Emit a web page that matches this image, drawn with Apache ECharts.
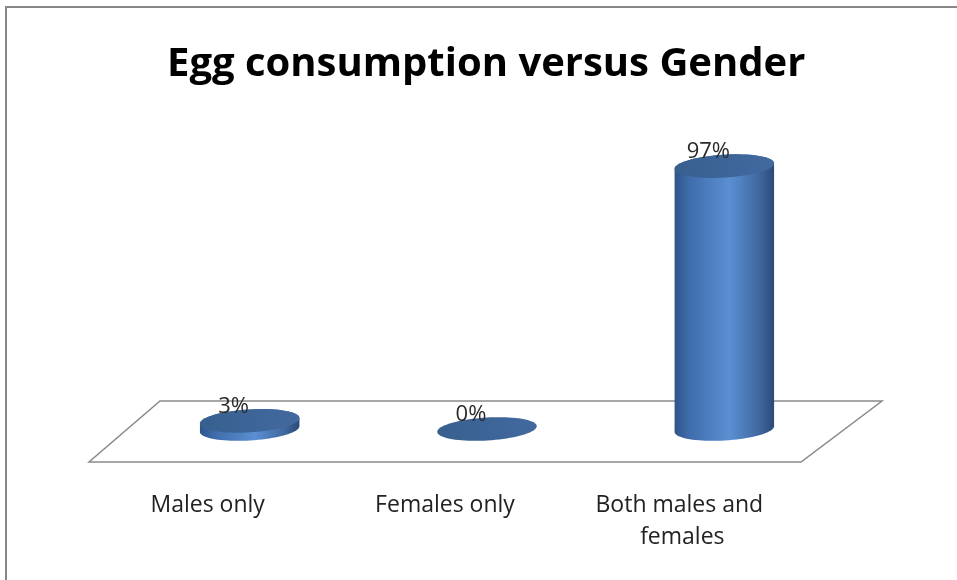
<!DOCTYPE html>
<html>
<head>
<meta charset="utf-8">
<script src="https://cdn.jsdelivr.net/npm/echarts@6/dist/echarts.min.js"></script>
<style>
  html, body { margin: 0; padding: 0; background: #fff; }
  #chart { width: 957px; height: 580px; }
</style>
</head>
<body>
<div id="chart"></div>
<script>
// Share of households by who eats eggs
const categories = ['Males only', 'Females only', 'Both males and females'];
const shares = [3, 0, 97];
const titleText = 'Egg consumption versus Gender';

const FONT = '"Open Sans", Lato, sans-serif';

// Depth offset of the bars behind the front edge of the floor
const DEPTH_X = 42, DEPTH_Y = -33;
const TILT = 0.06;

function ellipsePoint(cx, cy, rx, ry, th) {
  return [
    cx + rx * Math.cos(th) * Math.cos(TILT) + ry * Math.sin(th) * Math.sin(TILT),
    cy - rx * Math.cos(th) * Math.sin(TILT) + ry * Math.sin(th) * Math.cos(TILT)
  ];
}

function ellipsePoints(cx, cy, rx, ry, from, to, n) {
  const pts = [];
  for (let i = 0; i <= n; i++) {
    pts.push(ellipsePoint(cx, cy, rx, ry, from + (to - from) * i / n));
  }
  return pts;
}

const bodyGradient = new echarts.graphic.LinearGradient(0, 0, 1, 0, [
  { offset: 0, color: '#2f548c' },
  { offset: 0.15, color: '#3f6dab' },
  { offset: 0.55, color: '#5a8fd3' },
  { offset: 0.85, color: '#40689f' },
  { offset: 1, color: '#2b4a78' }
]);
const capGradient = new echarts.graphic.LinearGradient(0, 0, 1, 0, [
  { offset: 0, color: '#37608f' },
  { offset: 1, color: '#43699f' }
]);

function renderCylinder(params, api) {
  const cat = api.value(0);
  const val = api.value(1);
  const base = api.coord([cat, 0]);
  const top = api.coord([cat, val]);
  const band = api.size([1, 0])[0];
  const rx = band * 0.21;
  const ry = 11.5;
  const cx = base[0] + DEPTH_X;
  const by = base[1] + DEPTH_Y;
  const ty = top[1] + DEPTH_Y;
  const children = [];
  if (by - ty > 0.5) {
    const lower = ellipsePoints(cx, by, rx, ry, Math.PI, 0, 40);
    const upper = ellipsePoints(cx, ty, rx, ry, 0, -Math.PI, 40);
    children.push({
      type: 'polygon',
      shape: { points: lower.concat(upper) },
      style: { fill: bodyGradient }
    });
  }
  children.push({
    type: 'polygon',
    shape: { points: ellipsePoints(cx, ty, rx, ry, 0, Math.PI * 2, 80) },
    style: { fill: capGradient }
  });
  children.push({
    type: 'text',
    x: cx - 16,
    y: ty - 14,
    style: {
      text: val + '%',
      font: '22px ' + FONT,
      fill: '#2a2a2a',
      align: 'center',
      verticalAlign: 'middle'
    }
  });
  return { type: 'group', children: children };
}

function renderFloor(params) {
  const cs = params.coordSys;
  const yb = cs.y + cs.height;
  return {
    type: 'polygon',
    shape: {
      points: [
        [cs.x, yb],
        [cs.x + cs.width, yb],
        [cs.x + cs.width + 81, yb - 61],
        [cs.x + 71, yb - 61]
      ]
    },
    style: { fill: '#ffffff', stroke: '#8a8a8a', lineWidth: 1.5 }
  };
}

const chart = echarts.init(document.getElementById('chart'), null, { renderer: 'canvas' });
chart.setOption({
  animation: false,
  backgroundColor: '#ffffff',
  title: {
    text: titleText,
    left: 162,
    top: 40,
    textStyle: { fontFamily: FONT, fontSize: 40, fontWeight: 'bold', color: '#000' }
  },
  graphic: [{
    type: 'polyline',
    shape: { points: [[6, 580], [6, 7], [957, 7]] },
    style: { stroke: '#878787', lineWidth: 2, fill: null }
  }],
  grid: { left: 89, width: 712, top: 191, bottom: 118 },
  xAxis: {
    type: 'category',
    data: categories,
    axisLine: { show: false },
    axisTick: { show: false },
    axisLabel: {
      margin: 27,
      fontFamily: FONT,
      fontSize: 23,
      lineHeight: 32,
      color: '#222',
      width: 210,
      overflow: 'break',
      interval: 0
    }
  },
  yAxis: { type: 'value', min: 0, max: 100, show: false },
  series: [
    {
      type: 'custom',
      z: 1,
      data: [[0]],
      renderItem: renderFloor,
      silent: true
    },
    {
      type: 'custom',
      z: 2,
      data: categories.map((c, i) => [i, shares[i]]),
      encode: { x: 0, y: 1 },
      renderItem: renderCylinder
    }
  ]
});
</script>
</body>
</html>
